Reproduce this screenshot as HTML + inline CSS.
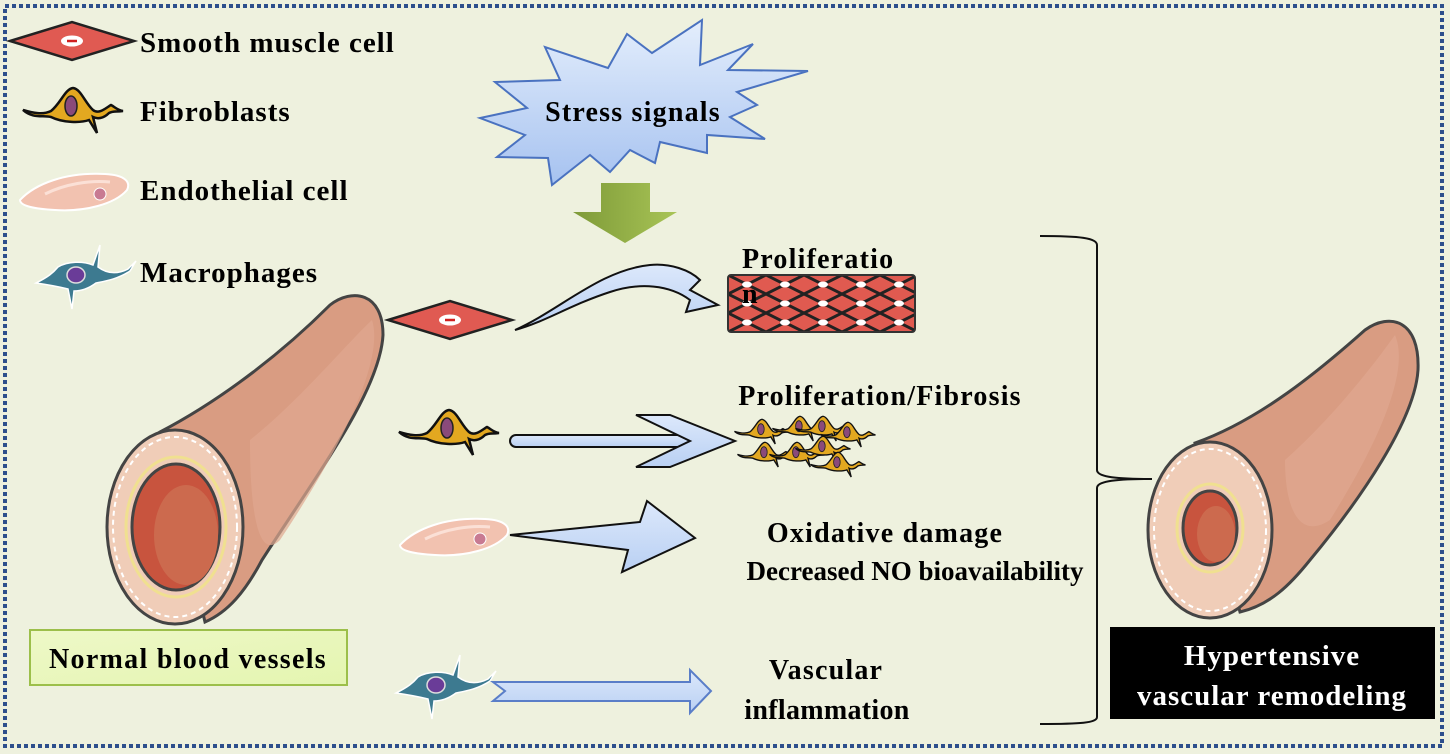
<!DOCTYPE html>
<html><head><meta charset="utf-8"><style>
html,body{margin:0;padding:0;background:#eef1de;}
svg{display:block}
text{font-family:"Liberation Serif",serif;font-weight:bold;fill:#000}
.t{font-size:28px;letter-spacing:1.2px}
.l{font-size:29px;letter-spacing:1px}
</style></head><body>
<svg width="1450" height="754" viewBox="0 0 1450 754" xmlns="http://www.w3.org/2000/svg">
<defs>
<linearGradient id="star" x1="0" y1="0" x2="0" y2="1"><stop offset="0" stop-color="#e4eefc"/><stop offset="1" stop-color="#a6c2f0"/></linearGradient>
<linearGradient id="grn" x1="0" y1="0" x2="1" y2="0"><stop offset="0" stop-color="#7e9a38"/><stop offset="1" stop-color="#a8c456"/></linearGradient>
<linearGradient id="box" x1="0" y1="0" x2="1" y2="1"><stop offset="0" stop-color="#eef8c8"/><stop offset="1" stop-color="#e4f5b0"/></linearGradient>
<linearGradient id="arr" x1="0" y1="0" x2="0" y2="1"><stop offset="0" stop-color="#dce8fb"/><stop offset="1" stop-color="#b9d0f3"/></linearGradient>
<pattern id="smc" x="728" y="275" width="38" height="19" patternUnits="userSpaceOnUse">
<rect width="38" height="19" fill="#e05a50"/>
<path d="M0,0 L38,19 M0,19 L38,0" stroke="#222" stroke-width="3"/>
<ellipse cx="19" cy="9.5" rx="5" ry="3" fill="#fff"/>
</pattern>
<g id="smcCell"><path d="M-62,0 L0,-19 L62,0 L0,19 Z" fill="#e05a52" stroke="#222" stroke-width="2.5"/><ellipse cx="0" cy="0" rx="11" ry="5.5" fill="#fff"/><line x1="-5" y1="0" x2="5" y2="0" stroke="#d02020" stroke-width="2.5"/></g>
<g id="fib"><path d="M-50,-3 C-40,0 -30,2 -22,-2 C-12,-10 -8,-24 0,-25 C8,-24 12,-10 20,-3 C26,2 34,-6 38,-8 C42,-6 44,-3 50,-2 C42,-1 40,-2 36,0 C30,6 24,6 20,4 L24,20 L16,7 C8,10 -10,10 -22,4 C-30,2 -40,6 -50,-3 Z" fill="#e3a820" stroke="#111" stroke-width="2.5"/><ellipse cx="-2" cy="-7" rx="6" ry="10" fill="#8a4a7a" stroke="#222" stroke-width="1.5"/></g>
<g id="endo"><path d="M-55,8 C-40,-8 -10,-20 30,-18 C50,-17 56,-10 52,-2 C40,12 10,20 -20,18 C-40,17 -55,14 -55,8 Z" fill="#f2c2b0" stroke="#fff" stroke-width="2"/><path d="M-30,2 C-10,-8 15,-12 35,-10" stroke="#fbe0d6" stroke-width="3" fill="none"/><circle cx="25" cy="2" r="6" fill="#c87a92" stroke="#fff"/></g>
<g id="mac"><path d="M-42,8 C-30,2 -25,-2 -20,-8 C-10,-14 5,-14 15,-10 L22,-30 L20,-8 C28,-2 38,0 50,-6 L58,-14 L52,-4 C40,4 28,6 18,8 C10,14 2,16 -4,16 L-6,34 L-10,14 C-18,12 -28,10 -42,8 Z" fill="#3d7a90" stroke="#fff" stroke-width="1.5"/><ellipse cx="-2" cy="0" rx="9" ry="8" fill="#6a3c98" stroke="#ddd" stroke-width="1.5"/></g>
</defs>
<rect x="0" y="0" width="1450" height="754" fill="#eef1de"/>
<rect x="5" y="6" width="1437" height="740" fill="none" stroke="#2d4f8c" stroke-width="4" stroke-dasharray="4,3"/>

<use href="#smcCell" x="72" y="41"/>
<use href="#fib" x="73" y="113"/>
<use href="#endo" x="75" y="192"/>
<use href="#mac" x="78" y="275"/>
<text class="l" x="140" y="52">Smooth muscle cell</text>
<text class="l" x="140" y="121">Fibroblasts</text>
<text class="l" x="140" y="200">Endothelial cell</text>
<text class="l" x="140" y="282">Macrophages</text>

<polygon points="495,82 560,80 545,47 608,68 627,34 652,53 702,20 700,65 753,44 728,70 808,71 737,92 757,105 730,117 765,139 707,135 707,153 660,142 655,163 630,150 610,172 590,155 552,185 548,158 497,157 525,135 480,118 527,108" fill="url(#star)" stroke="#4a72c0" stroke-width="2"/>
<text class="t" x="633" y="121" text-anchor="middle">Stress signals</text>
<polygon points="601,183 650,183 650,212 677,212 625,243 573,212 601,212" fill="url(#grn)"/>

<path d="M160,432 C225,398 285,350 330,305 C352,288 383,292 383,335 C380,390 320,470 262,560 C245,592 228,612 205,622 Z" fill="#d99c82" stroke="#444" stroke-width="3"/>
<path d="M250,440 C300,400 350,340 372,320 C385,360 340,450 280,540 C260,560 250,520 250,440 Z" fill="#dfa890" opacity="0.7"/>
<ellipse cx="175" cy="527" rx="68" ry="97" fill="#f0cdb8" stroke="#444" stroke-width="3"/>
<ellipse cx="175" cy="527" rx="62" ry="90" fill="none" stroke="#fff" stroke-width="2" stroke-dasharray="5,4"/>
<ellipse cx="176" cy="527" rx="50" ry="70" fill="none" stroke="#f0e090" stroke-width="3"/>
<ellipse cx="176" cy="527" rx="44" ry="63" fill="#c8543e" stroke="#444" stroke-width="3"/>
<ellipse cx="186" cy="535" rx="32" ry="50" fill="#cc6a4e"/>

<rect x="30" y="630" width="317" height="55" fill="url(#box)" stroke="#9cbf4a" stroke-width="2"/>
<text x="188" y="668" font-size="28" style="letter-spacing:1.3px" text-anchor="middle">Normal blood vessels</text>

<use href="#smcCell" x="450" y="320"/>
<path d="M515,330 C560,310 600,270 650,265 C670,263 690,270 700,280 L690,290 L718,305 L686,312 L690,300 C670,285 640,282 610,292 C570,305 545,322 515,330 Z" fill="url(#arr)" stroke="#111" stroke-width="2"/>
<rect x="728" y="275" width="187" height="57" rx="3" fill="url(#smc)" stroke="#333" stroke-width="2"/>
<text class="t" x="742" y="268">Proliferatio</text>
<text class="t" x="742" y="303">n</text>

<use href="#fib" x="449" y="435"/>
<path d="M516,435 L700,435 L700,447 L516,447 A6,6 0 0 1 516,435 Z" fill="url(#arr)" stroke="#111" stroke-width="2"/>
<polygon points="636,415 670,415 735,441 670,467 636,467 690,441" fill="url(#arr)" stroke="#111" stroke-width="2"/>
<g transform="translate(762,433) scale(0.55)"><use href="#fib"/></g>
<g transform="translate(800,430) scale(0.55)"><use href="#fib"/></g>
<g transform="translate(823,430) scale(0.55)"><use href="#fib"/></g>
<g transform="translate(848,436) scale(0.55)"><use href="#fib"/></g>
<g transform="translate(765,456) scale(0.55)"><use href="#fib"/></g>
<g transform="translate(797,456) scale(0.55)"><use href="#fib"/></g>
<g transform="translate(823,450) scale(0.55)"><use href="#fib"/></g>
<g transform="translate(838,466) scale(0.55)"><use href="#fib"/></g>
<text class="t" x="880" y="405" text-anchor="middle">Proliferation/Fibrosis</text>

<use href="#endo" x="455" y="537"/>
<polygon points="510,535 640,522 647,501 695,538 622,572 628,550" fill="url(#arr)" stroke="#111" stroke-width="2"/>
<text class="t" x="885" y="542" text-anchor="middle">Oxidative damage</text>
<text x="915" y="580" font-size="27" text-anchor="middle">Decreased NO bioavailability</text>

<use href="#mac" x="438" y="685"/>
<polygon points="493,682 690,682 690,670 711,691 690,713 690,701 493,701 505,691" fill="url(#arr)" stroke="#5a7ec8" stroke-width="2"/>
<text class="t" x="826" y="679" text-anchor="middle">Vascular</text>
<text x="827" y="719" font-size="28" style="letter-spacing:0.3px" text-anchor="middle">inflammation</text>

<path d="M1040,236 C1080,236 1097,238 1097,245 L1097,470 C1097,476 1110,479 1152,479 C1110,479 1097,482 1097,488 L1097,717 C1097,723 1080,724 1040,724" fill="none" stroke="#111" stroke-width="2"/>

<path d="M1195,443 C1260,420 1320,370 1365,330 C1390,312 1420,320 1418,370 C1415,420 1360,500 1310,560 C1290,585 1270,605 1240,612 Z" fill="#d99c82" stroke="#444" stroke-width="3"/>
<path d="M1285,460 C1330,420 1370,370 1395,335 C1410,370 1380,440 1330,520 C1300,540 1285,510 1285,460 Z" fill="#dfa890" opacity="0.7"/>
<ellipse cx="1210" cy="530" rx="62" ry="88" fill="#f0cdb8" stroke="#444" stroke-width="3"/>
<ellipse cx="1210" cy="530" rx="56" ry="81" fill="none" stroke="#fff" stroke-width="2" stroke-dasharray="5,4"/>
<ellipse cx="1210" cy="528" rx="33" ry="44" fill="none" stroke="#f0e090" stroke-width="3"/>
<ellipse cx="1210" cy="528" rx="27" ry="37" fill="#c8543e" stroke="#444" stroke-width="3"/>
<ellipse cx="1216" cy="534" rx="19" ry="28" fill="#cc6a4e"/>

<rect x="1110" y="627" width="325" height="92" fill="#000"/>
<text x="1272" y="665" font-size="29" text-anchor="middle" style="fill:#fff;letter-spacing:1px">Hypertensive</text>
<text x="1272" y="705" font-size="29" text-anchor="middle" style="fill:#fff;letter-spacing:1px">vascular remodeling</text>
</svg>
</body></html>
